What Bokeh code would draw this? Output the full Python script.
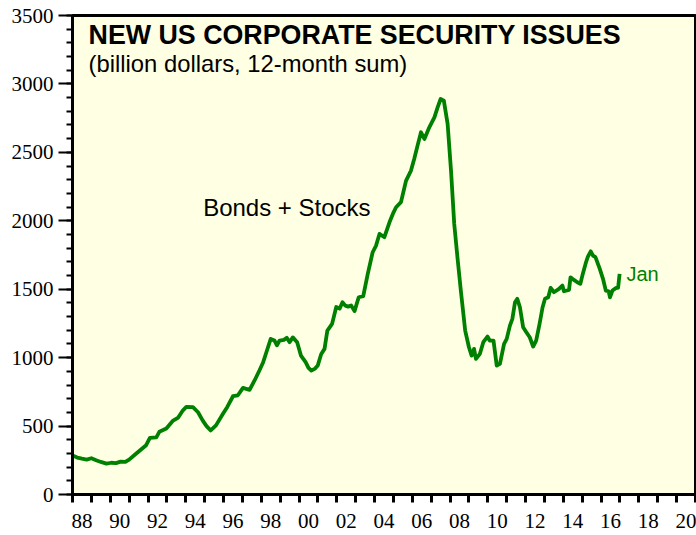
from bokeh.plotting import figure
from bokeh.models import FixedTicker, Label, Range1d
from bokeh.embed import file_html
from bokeh.resources import INLINE

# Decimal years and 12-month sum of new corporate security issues (billion $)
dates = [
    1988.00, 1988.25, 1988.50, 1988.75, 1989.00, 1989.25, 1989.50, 1989.80, 1990.05, 1990.30,
    1990.55, 1990.80, 1991.00, 1991.30, 1991.60, 1991.90, 1992.10, 1992.44, 1992.60, 1992.97,
    1993.33, 1993.60, 1993.85, 1994.03, 1994.38, 1994.65, 1994.90, 1995.10, 1995.32, 1995.60,
    1995.97, 1996.20, 1996.50, 1996.76, 1997.03, 1997.38, 1997.65, 1997.90, 1998.10, 1998.30,
    1998.50, 1998.70, 1998.83, 1998.97, 1999.20, 1999.35, 1999.50, 1999.67, 1999.90, 2000.10,
    2000.35, 2000.50, 2000.65, 2000.85, 2000.99, 2001.17, 2001.35, 2001.50, 2001.75, 2001.97,
    2002.15, 2002.30, 2002.45, 2002.60, 2002.76, 2002.94, 2003.16, 2003.40, 2003.64, 2003.90,
    2004.08, 2004.26, 2004.52, 2004.79, 2005.00, 2005.14, 2005.40, 2005.67, 2005.93, 2006.10,
    2006.30, 2006.46, 2006.64, 2006.90, 2007.17, 2007.34, 2007.50, 2007.67, 2007.87, 2008.05,
    2008.22, 2008.40, 2008.57, 2008.80, 2009.00, 2009.14, 2009.27, 2009.37, 2009.58, 2009.76,
    2009.98, 2010.10, 2010.30, 2010.47, 2010.64, 2010.86, 2011.00, 2011.17, 2011.30, 2011.44,
    2011.56, 2011.70, 2011.87, 2012.04, 2012.22, 2012.40, 2012.56, 2012.74, 2012.90, 2013.03,
    2013.20, 2013.33, 2013.50, 2013.77, 2013.95, 2014.03, 2014.30, 2014.38, 2014.56, 2014.74,
    2014.90, 2015.03, 2015.20, 2015.30, 2015.45, 2015.57, 2015.70, 2015.93, 2016.10, 2016.25,
    2016.40, 2016.47, 2016.60, 2016.80, 2016.90, 2016.98,
]
issues = [
    285, 270, 262, 255, 265, 250, 238, 226, 232, 229,
    240, 238, 255, 290, 325, 360, 414, 418, 458, 482,
    540, 562, 615, 640, 638, 601, 540, 500, 468, 505,
    590, 640, 718, 725, 779, 765, 835, 906, 967, 1052,
    1137, 1125, 1090, 1125, 1130, 1145, 1113, 1148, 1113, 1015,
    967, 925, 906, 920, 942, 1025, 1064, 1198, 1247, 1370,
    1358, 1405, 1380, 1373, 1381, 1340, 1441, 1450, 1612, 1770,
    1819, 1904, 1880, 1989, 2060, 2099, 2136, 2294, 2367, 2452,
    2562, 2647, 2598, 2683, 2756, 2829, 2890, 2878, 2708, 2367,
    1977, 1720, 1490, 1198, 1076, 1015, 1064, 991, 1028, 1113,
    1154, 1125, 1125, 942, 955, 1101, 1137, 1234, 1283, 1405,
    1430, 1368, 1222, 1186, 1149, 1081, 1125, 1247, 1368, 1430,
    1441, 1510, 1478, 1502, 1527, 1485, 1495, 1587, 1568, 1551,
    1539, 1612, 1697, 1738, 1777, 1746, 1734, 1649, 1576, 1490,
    1485, 1441, 1490, 1510, 1510, 1612,
]

year_ticks = list(range(1988, 2022))
label_positions = [y + 0.5 for y in range(1988, 2021, 2)]
label_texts = ["88", "90", "92", "94", "96", "98", "00", "02", "04", "06",
               "08", "10", "12", "14", "16", "18", "20"]
y_major = [0, 500, 1000, 1500, 2000, 2500, 3000, 3500]
y_minor = list(range(0, 3501, 100))

title = "NEW US CORPORATE SECURITY ISSUES"
subtitle = "(billion dollars, 12-month sum)"
series_label = "Bonds + Stocks"
end_label = "Jan"

p = figure(width=696, height=535, output_backend="svg", toolbar_location=None,
           x_range=Range1d(1988, 2021), y_range=Range1d(0, 3500),
           min_border_left=72, min_border_right=1, min_border_top=15, min_border_bottom=41)

p.background_fill_color = "#FFFFE3"
p.border_fill_color = "white"
p.outline_line_color = "black"
p.outline_line_width = 3
p.grid.visible = False

p.line(dates, issues, line_color="#008000", line_width=3.8, line_join="round")

# x axis
xa = p.xaxis[0]
xa.ticker = FixedTicker(ticks=label_positions, minor_ticks=year_ticks)
xa.major_label_overrides = {pos: txt for pos, txt in zip(label_positions, label_texts)}
xa.major_tick_out = 0
xa.major_tick_in = 0
xa.minor_tick_out = 8
xa.minor_tick_in = 0
xa.minor_tick_line_width = 3
xa.minor_tick_line_color = "black"
xa.axis_line_width = 3
xa.axis_line_color = "black"
xa.major_label_standoff = 11
xa.major_label_text_font = "Liberation Serif"
xa.major_label_text_font_size = "21px"
xa.major_label_text_color = "black"

# y axis
ya = p.yaxis[0]
ya.ticker = FixedTicker(ticks=y_major, minor_ticks=y_minor)
ya.major_tick_out = 14
ya.major_tick_in = 0
ya.major_tick_line_width = 2
ya.minor_tick_out = 6
ya.minor_tick_in = 0
ya.minor_tick_line_width = 2
ya.axis_line_width = 3
ya.axis_line_color = "black"
ya.major_label_standoff = 5
ya.major_label_text_font = "Liberation Serif"
ya.major_label_text_font_size = "21px"
ya.major_label_text_color = "black"

p.add_layout(Label(x=1988.85, y=3360, text=title, text_font="Liberation Sans",
                   text_font_style="bold", text_font_size="26.8px", text_color="black",
                   text_baseline="alphabetic"))
p.add_layout(Label(x=1988.85, y=3151, text=subtitle, text_font="Liberation Sans",
                   text_font_size="23.8px", text_color="black", text_baseline="alphabetic"))
p.add_layout(Label(x=1994.92, y=2097, text=series_label, text_font="Liberation Sans",
                   text_font_size="24px", text_color="black", text_baseline="alphabetic"))
p.add_layout(Label(x=2017.34, y=1614, text=end_label, text_font="Liberation Sans",
                   text_font_size="20px", text_color="#008000", text_baseline="alphabetic"))

open("out.html", "w").write(file_html(p, INLINE))
